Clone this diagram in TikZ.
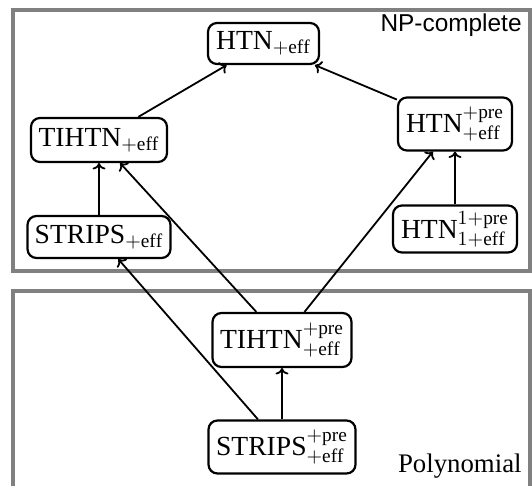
\documentclass[tikz,border=0pt]{standalone}
\usepackage{fontspec}
\setmainfont{Liberation Serif}
\newfontfamily\npsans{Liberation Sans}
\usetikzlibrary{arrows.meta}
\begin{document}
\begin{tikzpicture}[x=0.5pt,y=-0.5pt,
  frame/.style={draw=black!50,line width=2pt},
  cls/.style={draw,line width=1.1pt,rounded corners=4.5pt,inner sep=1pt,align=center,font=\fontsize{13.8}{16}\selectfont},
  arr/.style={line width=0.9pt,-{To[width=6.5pt,length=3.2pt]}}]
\useasboundingbox (0,0) rectangle (532,486);
\fill[white] (0,0) rectangle (532,486);
\begin{scope}
\clip (0,0) rectangle (532,486);
\draw[frame] (13,10) rectangle (530,271);
\draw[frame] (13,291) rectangle (530,488);
\end{scope}
\node[anchor=base east,inner sep=0pt,font=\npsans\fontsize{12.2}{14}\selectfont] (np) at (522,32) {NP-complete};
\node[anchor=base east,inner sep=0pt,font=\fontsize{13.4}{15}\selectfont] (poly) at (522,473) {Polynomial};

\node[cls,minimum width=55.5pt,minimum height=20.5pt] (htn) at (263.5,43.5) {$\mathrm{HTN}_{+\mathrm{eff}}$};
\node[cls,minimum width=68pt,minimum height=22pt] (tihtn) at (99,140) {$\mathrm{TIHTN}_{+\mathrm{eff}}$};
\node[cls,minimum width=71.5pt,minimum height=21pt] (strips) at (99,237) {$\mathrm{STRIPS}_{+\mathrm{eff}}$};
\node[cls,minimum width=57pt,minimum height=26.5pt] (htnp) at (455,124) {$\mathrm{HTN}^{+\mathrm{pre}}_{+\mathrm{eff}}$};
\node[cls,minimum width=62pt,minimum height=23.5pt] (htno) at (455,229) {$\mathrm{HTN}^{1+\mathrm{pre}}_{1+\mathrm{eff}}$};
\node[cls,minimum width=69.5pt,minimum height=27pt] (tihtnp) at (282,340) {$\mathrm{TIHTN}^{+\mathrm{pre}}_{+\mathrm{eff}}$};
\node[cls,minimum width=73.5pt,minimum height=26.5pt] (stripsp) at (282,447) {$\mathrm{STRIPS}^{+\mathrm{pre}}_{+\mathrm{eff}}$};

\draw[arr] (tihtn) -- (htn);
\draw[arr] (htnp) -- (htn);
\draw[arr] (strips) -- (tihtn);
\draw[arr] (htno) -- (htnp);
\draw[arr] (tihtnp) -- (tihtn);
\draw[arr] (tihtnp) -- (htnp);
\draw[arr] (stripsp) -- (strips);
\draw[arr] (stripsp) -- (tihtnp);
\end{tikzpicture}
\end{document}
